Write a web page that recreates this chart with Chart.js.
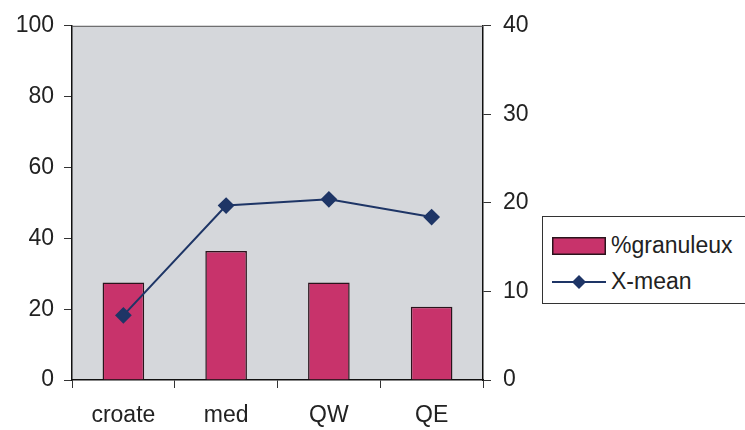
<!DOCTYPE html>
<html>
<head>
<meta charset="utf-8">
<script src="https://cdn.jsdelivr.net/npm/chart.js@4/dist/chart.umd.min.js"></script>
<style>
    body { margin: 0; background: #fff; }
    #wrap { position: relative; width: 745px; height: 430px; overflow: hidden; }
    #legend {
        position: absolute; left: 542px; top: 216px; width: 240px; height: 86px;
        border: 1px solid #333; background: #fff;
        font-family: "Liberation Sans", Arial, sans-serif; font-size: 23px; color: #222;
    }
    .item { position: absolute; left: 9px; display: flex; align-items: center; }
    .item span { margin-left: 5px; }
</style>
</head>
<body>
<div id="wrap">
    <canvas id="chart" width="745" height="430"></canvas>
    <div id="legend"></div>
</div>
<script>
const categories = ['croate', 'med', 'QW', 'QE'];
const granuleux = [27.5, 36.4, 27.5, 20.7];
const xMean = [7.3, 19.7, 20.4, 18.4];
const seriesNames = ['%granuleux', 'X-mean'];
const leftTicks = [0, 20, 40, 60, 80, 100];
const rightTicks = [0, 10, 20, 30, 40];

const barColor = '#C8336B';
const lineColor = '#1E3566';
const font = { family: '"Liberation Sans", Arial, sans-serif', size: 23 };

// grey plot background plus the top edge of the frame
const plotFrame = {
    id: 'plotFrame',
    beforeDraw(chart) {
        const { ctx, chartArea: a } = chart;
        ctx.save();
        ctx.fillStyle = '#D5D7DB';
        ctx.fillRect(a.left, a.top, a.right - a.left, a.bottom - a.top);
        ctx.restore();
    },
    afterDatasetsDraw(chart) {
        const { ctx, chartArea: a } = chart;
        ctx.save();
        ctx.strokeStyle = '#555';
        ctx.lineWidth = 1;
        ctx.beginPath();
        ctx.moveTo(a.left, a.top + 0.5);
        ctx.lineTo(a.right, a.top + 0.5);
        ctx.stroke();
        ctx.restore();
    }
};

new Chart(document.getElementById('chart'), {
    type: 'bar',
    data: {
        labels: categories,
        datasets: [{
            type: 'line',
            label: seriesNames[1],
            data: xMean,
            yAxisID: 'y2',
            borderColor: lineColor,
            backgroundColor: lineColor,
            borderWidth: 2,
            pointStyle: 'rectRot',
            pointRadius: 7,
            pointBackgroundColor: lineColor,
            pointBorderColor: lineColor,
            tension: 0,
            order: 0
        }, {
            label: seriesNames[0],
            data: granuleux,
            yAxisID: 'y',
            backgroundColor: barColor,
            borderColor: '#2A141C',
            borderWidth: 1.5,
            barPercentage: 0.405,
            categoryPercentage: 1,
            order: 1
        }]
    },
    options: {
        responsive: false,
        animation: false,
        layout: { padding: { top: 23, right: 202, left: 0, bottom: 0 } },
        plugins: { legend: { display: false }, tooltip: { enabled: false } },
        scales: {
            x: {
                offset: true,
                afterFit(s) { s.height = 50; },
                grid: { offset: true, drawOnChartArea: false, tickLength: 8, color: '#333' },
                border: { color: '#111', width: 1.5 },
                ticks: { font: font, color: '#222', padding: 14 }
            },
            y: {
                position: 'left',
                min: 0, max: 100,
                afterFit(s) { s.width = 72; },
                afterBuildTicks(s) { s.ticks = leftTicks.map(v => ({ value: v })); },
                grid: { drawOnChartArea: false, tickLength: 8, color: '#333' },
                border: { color: '#111', width: 1.5 },
                ticks: { font: font, color: '#222', padding: 10 }
            },
            y2: {
                position: 'right',
                min: 0, max: 40,
                afterFit(s) { s.width = 60; },
                afterBuildTicks(s) { s.ticks = rightTicks.map(v => ({ value: v })); },
                grid: { drawOnChartArea: false, tickLength: 8, color: '#333' },
                border: { color: '#111', width: 1.5 },
                ticks: { font: font, color: '#222', padding: 12 }
            }
        }
    },
    plugins: [plotFrame]
});

// legend box, partly cut off by the right edge as in the original
const legend = document.getElementById('legend');
legend.innerHTML = `
    <div class="item" style="top:15px">
        <svg width="54" height="18"><rect x="0.75" y="0.75" width="52.5" height="16.5" fill="${barColor}" stroke="#2A141C" stroke-width="1.5"/></svg>
        <span>${seriesNames[0]}</span>
    </div>
    <div class="item" style="top:51px">
        <svg width="54" height="16"><line x1="0" y1="8" x2="54" y2="8" stroke="${lineColor}" stroke-width="2"/><polygon points="27,1 34,8 27,15 20,8" fill="${lineColor}"/></svg>
        <span>${seriesNames[1]}</span>
    </div>
`;
</script>
</body>
</html>
